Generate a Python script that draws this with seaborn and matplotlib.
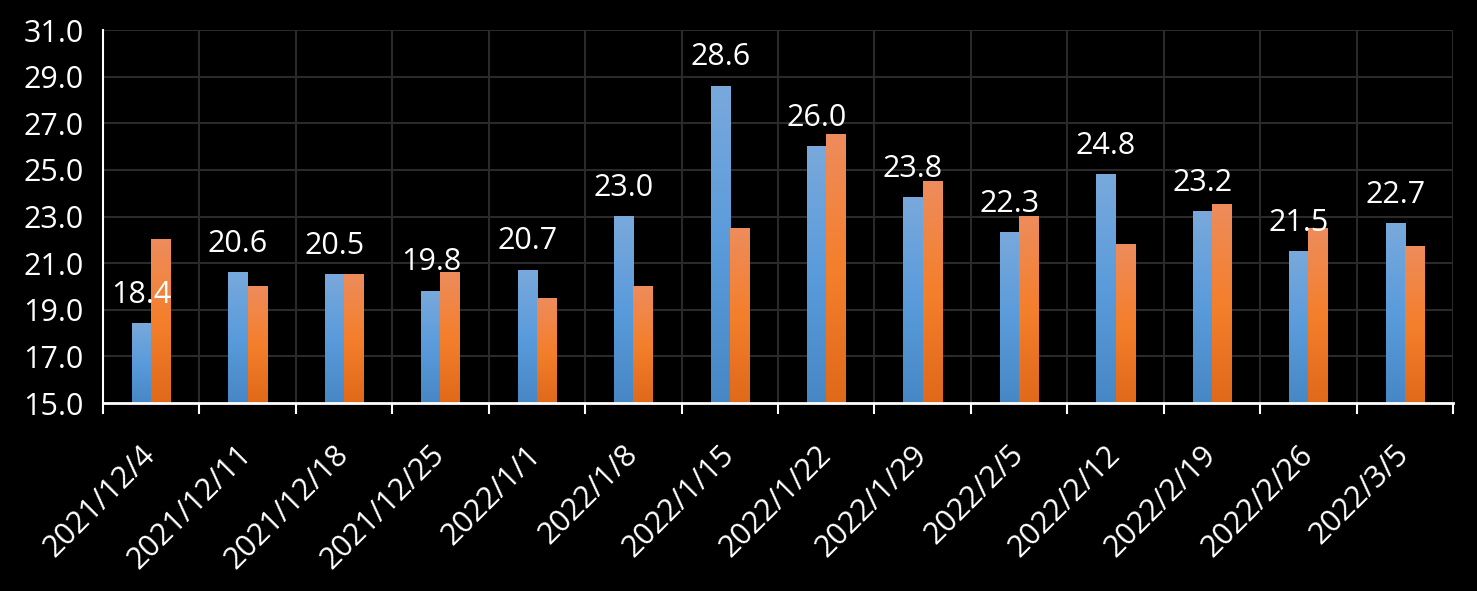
import numpy as np
import pandas as pd
import matplotlib
matplotlib.use("Agg")
import matplotlib.pyplot as plt
from matplotlib.colors import LinearSegmentedColormap
import seaborn as sns

dates = ["2021/12/4", "2021/12/11", "2021/12/18", "2021/12/25", "2022/1/1",
         "2022/1/8", "2022/1/15", "2022/1/22", "2022/1/29", "2022/2/5",
         "2022/2/12", "2022/2/19", "2022/2/26", "2022/3/5"]
series_a = [18.4, 20.6, 20.5, 19.8, 20.7, 23.0, 28.6, 26.0, 23.8, 22.3, 24.8, 23.2, 21.5, 22.7]
series_b = [22.0, 20.0, 20.5, 20.6, 19.5, 20.0, 22.5, 26.5, 24.5, 23.0, 21.8, 23.5, 22.5, 21.7]
y_ticks = [15.0, 17.0, 19.0, 21.0, 23.0, 25.0, 27.0, 29.0, 31.0]

df = pd.DataFrame({
    "date": dates * 2,
    "value": series_a + series_b,
    "series": ["A"] * len(dates) + ["B"] * len(dates),
})

sns.set_theme(style="dark")
plt.rcParams["font.family"] = ["Open Sans", "DejaVu Sans"]

fig = plt.figure(figsize=(14.77, 5.91), dpi=100, facecolor="black")
ax = fig.add_axes([0.0697, 0.318, 0.9141, 0.631])
ax.set_facecolor("black")

sns.barplot(data=df, x="date", y="value", hue="series", order=dates,
            palette=["#5b9bd5", "#f47f2a"], width=0.4, gap=0, ax=ax,
            legend=False, saturation=1, errorbar=None)

blue_cmap = LinearSegmentedColormap.from_list("b", ["#4787c6", "#5a9bdb", "#79a9dc"])
orange_cmap = LinearSegmentedColormap.from_list("o", ["#e0691a", "#f47f2c", "#ee8c5c"])
grad = np.linspace(0, 1, 256).reshape(-1, 1)

n = len(dates)
for i, p in enumerate(ax.patches):
    x0, y0 = p.get_x(), p.get_y()
    w, h = p.get_width(), p.get_height()
    cmap = blue_cmap if i < n else orange_cmap
    ax.imshow(grad, cmap=cmap, aspect="auto", origin="lower",
              extent=[x0, x0 + w, 15.0, y0 + h], zorder=2)
    p.set_visible(False)

# labels above blue bars
for i, v in enumerate(series_a):
    ax.annotate(f"{v:.1f}", xy=(i - 0.1, v), xytext=(0, 10), textcoords="offset points",
                ha="center", va="bottom", color="white", fontsize=22, zorder=5)

ax.set_xlim(-0.5, n - 0.5)
ax.set_ylim(15, 31)
ax.set_yticks(y_ticks)
ax.set_yticklabels([f"{t:.1f}" for t in y_ticks])
ax.set_xticks(range(n))
ax.set_xticklabels(dates, rotation=45, ha="right", va="center", rotation_mode="anchor")
ax.set_xticks(np.arange(-0.5, n, 1.0), minor=True)

ax.tick_params(axis="y", colors="white", labelsize=22, length=0, pad=14)
ax.tick_params(axis="x", which="major", colors="white", labelsize=22, length=0, pad=34)
ax.tick_params(axis="x", which="minor", color="white", length=8, width=1.5, bottom=True)

ax.grid(False)
for t in y_ticks[1:]:
    ax.axhline(t, color="#2a2a2a", lw=1.5, zorder=1)
for xb in np.arange(0.5, n - 0.5, 1.0):
    ax.axvline(xb, color="#2a2a2a", lw=1.5, zorder=1)
ax.axvline(n - 0.5, color="#2a2a2a", lw=1.5, zorder=1)

for s in ["top", "right"]:
    ax.spines[s].set_visible(False)
ax.spines["left"].set_color("white")
ax.spines["left"].set_linewidth(1.5)
ax.spines["bottom"].set_color("white")
ax.spines["bottom"].set_linewidth(2)
ax.spines["bottom"].set_zorder(6)

ax.set_xlabel("")
ax.set_ylabel("")

fig.savefig("out.png", dpi=100, facecolor="black")
